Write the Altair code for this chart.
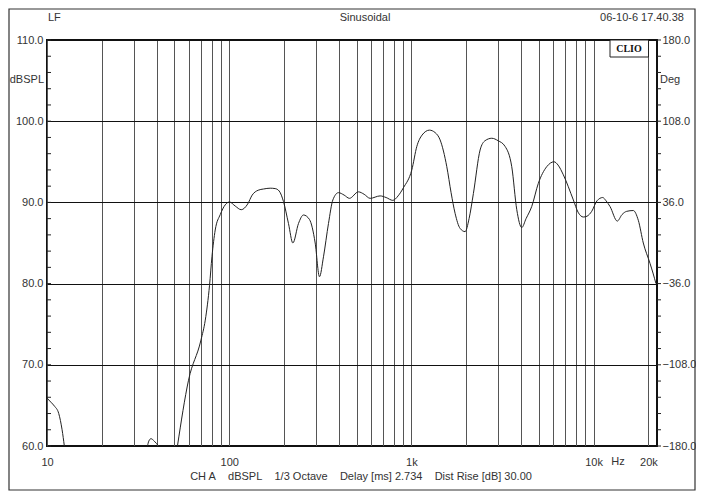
import altair as alt
import pandas as pd

# ---- data ----
seg1_freq = [10.0, 10.5, 11.0, 11.6, 12.1, 12.45]
seg1_db = [65.9, 65.4, 64.9, 64.0, 62.0, 60.0]

seg2_freq = [35.6, 36.2, 37.2, 38.8, 40.9]
seg2_db = [60.0, 60.6, 60.9, 60.6, 60.0]

seg3_freq = [52.0, 59.8, 70.0, 73.9, 78.0, 80.4, 83.8, 89.3, 95.1, 100.4, 107.9, 116.4,
             126.3, 133.7, 144.2, 154.3, 167.9, 178.8, 188.1, 198.6, 211.5, 223.6,
             240.0, 255.6, 275.7, 296.4, 312.9, 329.2, 350.6, 370.6, 397.8, 427.3,
             457.0, 512.0, 550.2, 593.6, 673.5, 726.5, 790.7, 845.3, 903.8, 1005,
             1071, 1145, 1256, 1349, 1437, 1564, 1651, 1737, 1850, 1971, 2073, 2189,
             2382, 2537, 2761, 2990, 3266, 3554, 3787, 4033, 4258, 4576, 4973, 5530,
             6066, 6380, 6821, 7741, 8213, 8780, 9199, 9763, 10440, 11220, 11700,
             12300, 13490, 14320, 15190, 16510, 17590, 18740, 20390, 21180, 21990]
seg3_db = [60.0, 68.1, 73.05, 75.5, 79.8, 83.3, 86.6, 88.5, 89.7, 90.05, 89.55, 89.1,
           89.8, 90.9, 91.5, 91.65, 91.75, 91.7, 91.4, 90.1, 87.4, 85.0,
           87.4, 88.45, 87.9, 85.0, 80.85, 83.3, 87.4, 90.3, 91.2, 90.9,
           90.5, 91.3, 91.0, 90.5, 90.8, 90.6, 90.25, 90.8, 91.8, 94.0,
           96.9, 98.3, 98.9, 98.6, 97.7, 94.4, 91.2, 88.65, 86.8, 86.4, 88.0, 91.1,
           96.45, 97.6, 97.9, 97.6, 96.9, 94.4, 89.1, 86.9, 88.0, 89.5, 92.35, 94.4,
           95.0, 94.6, 93.4, 90.3, 88.8, 88.2, 88.3, 88.9, 90.2, 90.6, 90.2,
           89.5, 87.7, 88.5, 88.9, 89.0, 87.8, 85.0, 82.5, 81.3, 80.0]

x_grid = ([10, 20, 30, 40, 50, 60, 70, 80, 90]
          + [100, 200, 300, 400, 500, 600, 700, 800, 900]
          + [1000, 2000, 3000, 4000, 5000, 6000, 7000, 8000, 9000]
          + [10000, 20000])
x_labels = [10, 100, 1000, 10000, 20000]
y_major = [60, 70, 80, 90, 100, 110]
y_minor = list(range(60, 111, 2))

NB = "\u00a0"
GAP = NB * 4
title_left = "LF"
title_mid = "Sinusoidal"
title_right = "06-10-6 17.40.38"
footer = GAP.join(["CH A", "dBSPL", "1/3 Octave", "Delay [ms] 2.734", "Dist Rise [dB] 30.00"])

# ---- build tables ----
rows = []
for s, (fs, ds) in enumerate([(seg1_freq, seg1_db), (seg2_freq, seg2_db), (seg3_freq, seg3_db)]):
    for f, d in zip(fs, ds):
        rows.append({"freq": f, "db": d, "seg": s})
df = pd.DataFrame(rows)
minor_df = pd.DataFrame({"v": y_minor})
one = pd.DataFrame({"a": [0]})

W, H = 610, 406
FONT = "Liberation Sans, Arial"
FS = 11
TC = "#333333"

xscale = alt.Scale(type="log", domain=[10, 22280], nice=False)
yscale = alt.Scale(domain=[60, 110], nice=False, zero=False)

label_expr_x = ("indexof([" + ",".join(str(v) for v in x_labels) + "], datum.value) >= 0 ? "
                "(datum.value >= 1000 ? (datum.value/1000) + 'k' : datum.value + '') : ''")

line = alt.Chart(df).mark_line(color="#222222", strokeWidth=1, interpolate="monotone").encode(
    x=alt.X("freq:Q", scale=xscale, title=None,
            axis=alt.Axis(values=x_grid, labelExpr=label_expr_x, grid=True, gridColor="#555555",
                          gridWidth=1, ticks=False, domain=False, labelPadding=10,
                          labelFlush=False, labelOverlap=False, labelFont=FONT,
                          labelFontSize=FS, labelColor=TC)),
    y=alt.Y("db:Q", scale=yscale, title=None,
            axis=alt.Axis(values=y_major, format=".1f", grid=True, gridColor="#111111",
                          ticks=False, domain=False, labelPadding=4, labelFont=FONT,
                          labelFontSize=FS, labelColor=TC)),
    detail="seg:N",
)

right_axis = alt.Chart(df).mark_point(opacity=0).encode(
    y=alt.Y("db:Q", scale=yscale, title=None,
            axis=alt.Axis(orient="right", values=y_major,
                          labelExpr="format((datum.value-60)*7.2-180, '.1f')",
                          grid=False, ticks=False, domain=False, labelPadding=5,
                          labelFont=FONT, labelFontSize=FS, labelColor=TC)),
)

minor_left = alt.Chart(minor_df).mark_rule(color="#222222", strokeWidth=1).encode(
    y=alt.Y("v:Q", scale=yscale, axis=None), x=alt.value(0), x2=alt.value(4))
minor_right = alt.Chart(minor_df).mark_rule(color="#222222", strokeWidth=1).encode(
    y=alt.Y("v:Q", scale=yscale, axis=None), x=alt.value(W), x2=alt.value(W + 4))


def txt(s, x, y, align="center", font=FONT, size=FS, weight="normal", color=TC):
    return alt.Chart(one).mark_text(text=s, align=align, baseline="middle", font=font,
                                    fontSize=size, fontWeight=weight, color=color).encode(
        x=alt.value(x), y=alt.value(y))


frame = alt.Chart(one).mark_rect(fillOpacity=0, stroke="#333333", strokeWidth=1.2).encode(
    x=alt.value(-38), x2=alt.value(648), y=alt.value(-31), y2=alt.value(450))
clio_box = alt.Chart(one).mark_rect(fill="white", stroke="#222222", strokeWidth=1).encode(
    x=alt.value(563), x2=alt.value(601.5), y=alt.value(0), y2=alt.value(17))

chart = alt.layer(
    frame,
    line,
    right_axis,
    minor_left,
    minor_right,
    clio_box,
    txt("CLIO", 582, 9, font="Liberation Serif, DejaVu Serif", size=10, weight="bold", color="#111111"),
    txt(title_left, 1, -22, align="left"),
    txt(title_mid, 318, -22),
    txt(title_right, 595, -22),
    txt("dBSPL", -3, 40, align="right"),
    txt("Deg", 613, 40, align="left"),
    txt("Hz", 571, 422),
    txt(footer, 314, 437),
).resolve_scale(y="shared").resolve_axis(y="independent").properties(
    width=W, height=H,
    autosize=alt.AutoSizeParams(type="none"),
    padding={"left": 39, "top": 32, "right": 39, "bottom": 45},
).configure_view(stroke="#111111", strokeWidth=2)

chart.save("out.html", embed_options={"renderer": "svg", "actions": False})
